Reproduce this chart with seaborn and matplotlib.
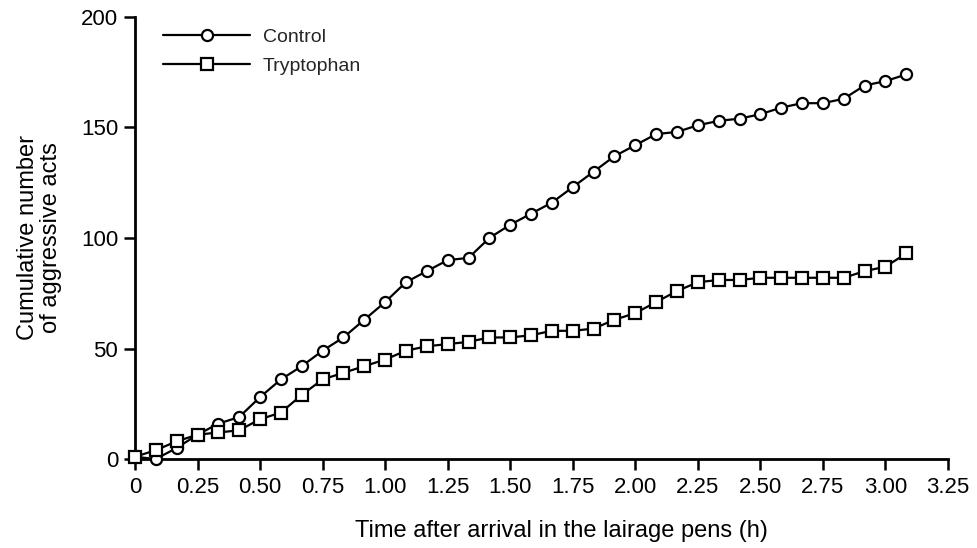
import matplotlib
matplotlib.use("Agg")
import matplotlib.pyplot as plt
import seaborn as sns
import numpy as np
import pandas as pd

# time in hours (5-minute intervals)
time_h = [i / 12 for i in range(38)]
control = [1, 0, 5, 11, 16, 19, 28, 36, 42, 49, 55, 63, 71, 80, 85, 90, 91, 100,
           106, 111, 116, 123, 130, 137, 142, 147, 148, 151, 153, 154, 156, 159,
           161, 161, 163, 169, 171, 174]
tryptophan = [1, 4, 8, 11, 12, 13, 18, 21, 29, 36, 39, 42, 45, 49, 51, 52, 53, 55,
              55, 56, 58, 58, 59, 63, 66, 71, 76, 80, 81, 81, 82, 82, 82, 82, 82,
              85, 87, 93]
series_names = ["Control", "Tryptophan"]
series_markers = ["o", "s"]
x_ticks = [0, 0.25, 0.5, 0.75, 1.0, 1.25, 1.5, 1.75, 2.0, 2.25, 2.5, 2.75, 3.0, 3.25]
x_tick_labels = ["0", "0.25", "0.50", "0.75", "1.00", "1.25", "1.50", "1.75",
                 "2.00", "2.25", "2.50", "2.75", "3.00", "3.25"]
y_ticks = [0, 50, 100, 150, 200]

sns.set_theme(style="ticks")
plt.rcParams["font.family"] = ["Liberation Sans", "DejaVu Sans"]

fig = plt.figure(figsize=(9.78, 5.48), dpi=100)
ax = fig.add_axes([0.138, 0.1624, 0.8313, 0.8066])

for name, vals, mk in zip(series_names, [control, tryptophan], series_markers):
    df = pd.DataFrame({"t": time_h, "v": vals})
    sns.lineplot(data=df, x="t", y="v", ax=ax, color="black", linewidth=1.6,
                 marker=mk, markersize=8,
                 markerfacecolor="white", markeredgecolor="black",
                 markeredgewidth=1.6, label=name, clip_on=False, zorder=3)

ax.set_xlim(0, 3.25)
ax.set_ylim(0, 200)
ax.set_xticks(x_ticks)
ax.set_xticklabels(x_tick_labels)
ax.set_yticks(y_ticks)
ax.tick_params(axis="both", labelsize=16, length=8, width=1.8, color="black",
               labelcolor="black")
ax.tick_params(axis="x", pad=5)
ax.tick_params(axis="y", pad=4)
for s in ["left", "bottom"]:
    ax.spines[s].set_linewidth(2)
    ax.spines[s].set_color("black")
sns.despine(ax=ax)

ax.set_xlabel("Time after arrival in the lairage pens (h)", fontsize=17,
              color="black")
ax.xaxis.set_label_coords(0.524, -0.138)
ax.set_ylabel("Cumulative number\nof aggressive acts", fontsize=17,
              labelpad=14, color="black", linespacing=1.05)

leg = ax.legend(frameon=False, loc="upper left", bbox_to_anchor=(0.02, 1.0),
                fontsize=14, handlelength=4.5, handletextpad=0.65,
                labelspacing=0.55, borderaxespad=0.2)

fig.savefig("out.png", dpi=100)
